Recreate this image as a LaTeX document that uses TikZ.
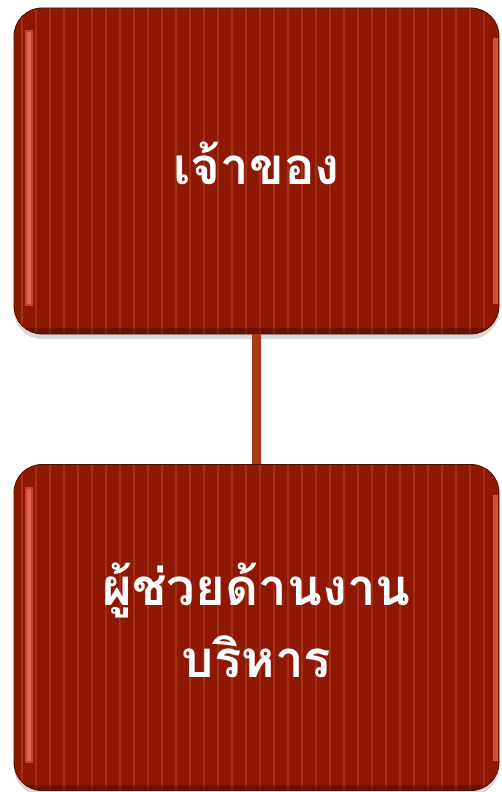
\documentclass[tikz,border=0pt]{standalone}
\usepackage{fontspec}
\newfontfamily\thaifont[Script=Thai]{Loma}
\usetikzlibrary{positioning,shadows}

\definecolor{boxred}{RGB}{143,24,4}
\definecolor{stripered}{RGB}{163,48,18}
\definecolor{rimred}{RGB}{228,100,78}
\definecolor{linkred}{RGB}{170,58,20}

\tikzset{
  orgbox/.style={rectangle, rounded corners=28pt, fill=boxred,
    draw=boxred!55!black, line width=0.8pt,
    minimum width=485pt, minimum height=326pt, inner sep=0pt, text depth=15pt,
    text=white, align=center, font=\thaifont\bfseries\fontsize{51}{72}\selectfont,
    drop shadow={shadow xshift=0pt, shadow yshift=-5pt, opacity=0.3},
    path picture={
      % thin lighter stripes
      \foreach \x in {8,22,36,50,64,78,92,106,120,134,148,162,176,190,204,218,232,246,260,274,288,302,316,330,344,358,372,386,400,414,428,442,456,470}
        \draw[stripered, line width=2pt]
          ([xshift=\x pt]path picture bounding box.south west) --
          ([xshift=\x pt]path picture bounding box.north west);
      % glossy rims left and right
      \draw[rimred!60!boxred, line width=8pt]
          ([xshift=15pt,yshift=28pt]path picture bounding box.south west) --
          ([xshift=15pt,yshift=-22pt]path picture bounding box.north west);
      \draw[rimred, line width=4pt]
          ([xshift=15pt,yshift=30pt]path picture bounding box.south west) --
          ([xshift=15pt,yshift=-24pt]path picture bounding box.north west);
      \draw[rimred!75!boxred, line width=5pt]
          ([xshift=-4pt,yshift=30pt]path picture bounding box.south east) --
          ([xshift=-4pt,yshift=-30pt]path picture bounding box.north east);
      \draw[black, opacity=0.25, line width=6pt]
          ([yshift=3pt]path picture bounding box.south west) --
          ([yshift=3pt]path picture bounding box.south east);
    }},
  link/.style={linkred, line width=9pt}
}

\begin{document}
\begin{tikzpicture}[x=1pt,y=1pt]
  \useasboundingbox (0,0) rectangle (501,-792);
  \node[orgbox] (owner) at (256.5,-171) {เจ้าของ};
  \node[orgbox] (assistant) at (256.5,-627.5) {ผู้ช่วยด้านงาน\\บริหาร};
  \draw[link] (owner.south) -- (assistant.north);
\end{tikzpicture}
\end{document}
